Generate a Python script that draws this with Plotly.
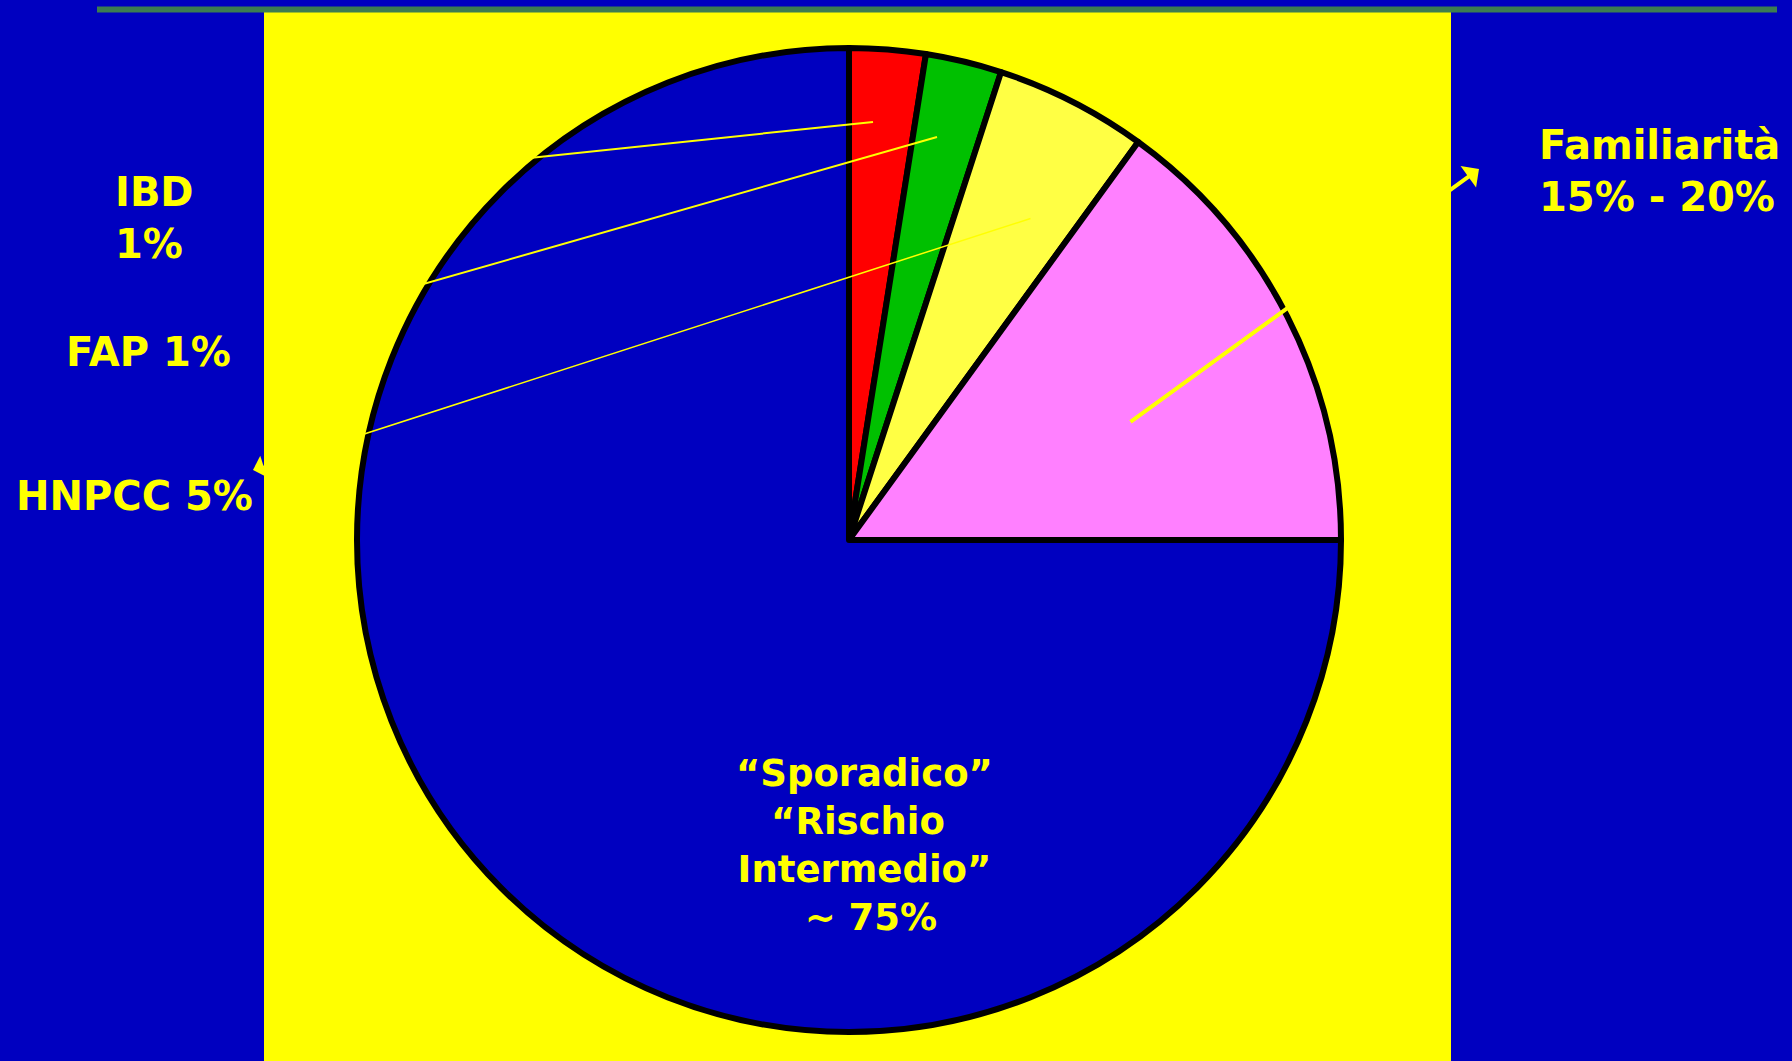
import plotly.graph_objects as go

W, H = 1792, 1061

# ---- data ----
categories = ["IBD", "FAP", "HNPCC", "Familiarità", "Sporadico"]
values = [2.5, 2.5, 5, 15, 75]
slice_colors = ["#FF0000", "#00C000", "#FFFF44", "#FF80FF", "#0000C0"]

label_ibd = "IBD<br>1%"
label_fap = "FAP 1%"
label_hnpcc = "HNPCC 5%"
label_fam = "Familiarità<br>15% - 20%"
label_spor = "“Sporadico”<br>“Rischio <br>Intermedio”<br> ~ 75%"

BLUE = "#0000C0"
YELLOW = "#FFFF00"
FONT = "DejaVu Sans"


def px(x):
    return x / W


def py(y):
    return 1 - y / H


# pie placement (center 849,540 radius 492 in pixels)
cx, cy, r = 849, 540, 492

fig = go.Figure()
fig.add_trace(go.Pie(
    labels=categories,
    values=values,
    sort=False,
    direction="clockwise",
    rotation=0,
    textinfo="none",
    hoverinfo="label+percent",
    marker=dict(colors=slice_colors, line=dict(color="black", width=6)),
    domain=dict(x=[px(cx - r), px(cx + r)], y=[py(cy + r), py(cy - r)]),
    showlegend=False,
))

shapes = [
    # yellow panel
    dict(type="rect", xref="paper", yref="paper", x0=px(264), x1=px(1451),
         y0=py(1061), y1=py(12), fillcolor=YELLOW, line=dict(width=0), layer="below"),
    # green top rule
    dict(type="line", xref="paper", yref="paper", x0=px(97), x1=px(1777),
         y0=py(9.5), y1=py(9.5), line=dict(color="#3C7D50", width=6), layer="above"),
    # leader lines IBD & FAP
    dict(type="line", xref="paper", yref="paper", x0=px(873), y0=py(122),
         x1=px(280), y1=py(184), line=dict(color=YELLOW, width=2), layer="above"),
    dict(type="line", xref="paper", yref="paper", x0=px(937), y0=py(137),
         x1=px(280), y1=py(325), line=dict(color=YELLOW, width=2), layer="above"),
]

annotations = [
    dict(text=label_ibd, x=px(113), y=py(218), xanchor="left", yanchor="middle", align="left"),
    dict(text=label_fap, x=px(148), y=py(352), xanchor="center", yanchor="middle"),
    dict(text=label_hnpcc, x=px(134), y=py(496), xanchor="center", yanchor="middle"),
    dict(text=label_fam, x=px(1537), y=py(171), xanchor="left", yanchor="middle", align="left"),
    dict(text=label_spor, x=px(864), y=py(845), xanchor="center", yanchor="middle", align="center",
         font=dict(size=37)),
]
for a in annotations:
    a.update(xref="paper", yref="paper", showarrow=False)
    f = dict(family=FONT, size=40, color=YELLOW, weight="bold")
    f.update(a.get("font", {}))
    a["font"] = f

# arrows (Familiarità and HNPCC)
annotations.append(dict(
    xref="paper", yref="paper", x=px(1479), y=py(169), ax=1129 - 1479, ay=423 - 169,
    text="", showarrow=True, arrowhead=1, arrowsize=1.1, arrowwidth=4, arrowcolor=YELLOW,
    standoff=0, startstandoff=0))
annotations.append(dict(
    xref="paper", yref="paper", x=px(253), y=py(470), ax=1032 - 253, ay=218 - 470,
    text="", showarrow=True, arrowhead=1, arrowsize=2.5, arrowwidth=1.5, arrowcolor=YELLOW,
    standoff=0, startstandoff=0))

fig.update_layout(
    width=W, height=H, autosize=False,
    margin=dict(l=0, r=0, t=0, b=0, pad=0),
    paper_bgcolor=BLUE, plot_bgcolor=BLUE,
    shapes=shapes, annotations=annotations,
    font=dict(family=FONT, color=YELLOW),
)

fig.write_html("out.html", config={"displayModeBar": False},
               post_script="document.body.style.margin='0px';document.body.style.overflow='hidden';")
